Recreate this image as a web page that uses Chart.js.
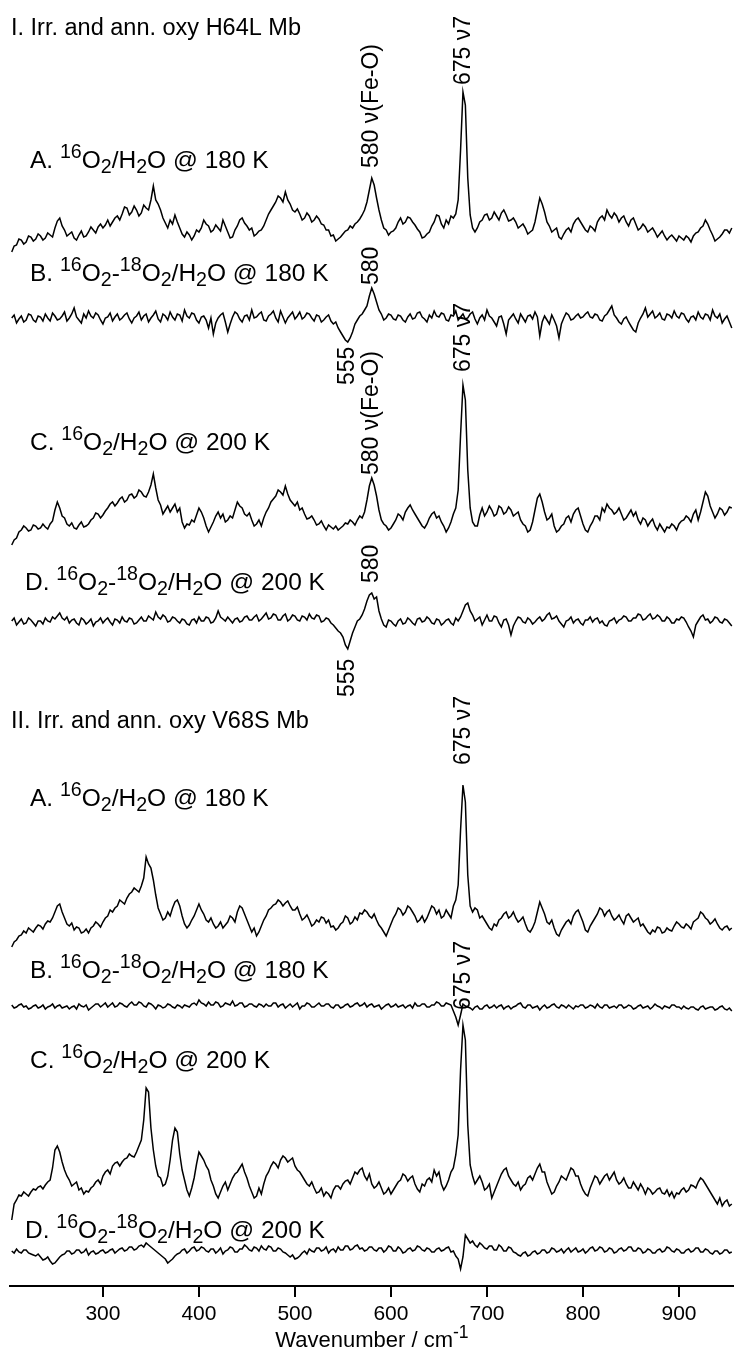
<!DOCTYPE html>
<html>
<head>
<meta charset="utf-8">
<script src="https://cdn.jsdelivr.net/npm/chart.js@4.4.1/dist/chart.umd.min.js"></script>
<style>
  html, body { margin: 0; padding: 0; background: #fff; }
  canvas { display: block; }
</style>
</head>
<body>
<canvas id="spectra" width="734" height="1354"></canvas>
<script>
// Raman shift grid (cm-1)
const wavenumbers = [
  205,207.5,210,212.5,215,217.5,220,222.5,225,227.5,230,232.5,235,237.5,240,242.5,245,247.5,250,252.5,
  255,257.5,260,262.5,265,267.5,270,272.5,275,277.5,280,282.5,285,287.5,290,292.5,295,297.5,300,302.5,
  305,307.5,310,312.5,315,317.5,320,322.5,325,327.5,330,332.5,335,337.5,340,342.5,345,347.5,350,352.5,
  355,357.5,360,362.5,365,367.5,370,372.5,375,377.5,380,382.5,385,387.5,390,392.5,395,397.5,400,402.5,
  405,407.5,410,412.5,415,417.5,420,422.5,425,427.5,430,432.5,435,437.5,440,442.5,445,447.5,450,452.5,
  455,457.5,460,462.5,465,467.5,470,472.5,475,477.5,480,482.5,485,487.5,490,492.5,495,497.5,500,502.5,
  505,507.5,510,512.5,515,517.5,520,522.5,525,527.5,530,532.5,535,537.5,540,542.5,545,547.5,550,552.5,
  555,557.5,560,562.5,565,567.5,570,572.5,575,577.5,580,582.5,585,587.5,590,592.5,595,597.5,600,602.5,
  605,607.5,610,612.5,615,617.5,620,622.5,625,627.5,630,632.5,635,637.5,640,642.5,645,647.5,650,652.5,
  655,657.5,660,662.5,665,667.5,670,672.5,675,677.5,680,682.5,685,687.5,690,692.5,695,697.5,700,702.5,
  705,707.5,710,712.5,715,717.5,720,722.5,725,727.5,730,732.5,735,737.5,740,742.5,745,747.5,750,752.5,
  755,757.5,760,762.5,765,767.5,770,772.5,775,777.5,780,782.5,785,787.5,790,792.5,795,797.5,800,802.5,
  805,807.5,810,812.5,815,817.5,820,822.5,825,827.5,830,832.5,835,837.5,840,842.5,845,847.5,850,852.5,
  855,857.5,860,862.5,865,867.5,870,872.5,875,877.5,880,882.5,885,887.5,890,892.5,895,897.5,900,902.5,
  905,907.5,910,912.5,915,917.5,920,922.5,925,927.5,930,932.5,935,937.5,940,942.5,945,947.5,950,952.5,
  955
];
const tickValues = [300, 400, 500, 600, 700, 800, 900];

// I. H64L Mb, 16O2/H2O @ 180 K
const h64l_16O2_180K = [
  -12,-6,-5,1,0,-4,-2,4,3,-1,1,6,4,0,2,7,5,3,12,19,
  22,14,10,4,6,8,2,0,5,9,3,4,8,13,10,7,13,16,12,15,
  20,14,18,22,24,20,26,33,32,25,28,34,30,24,27,35,32,30,40,54,
  40,36,30,22,17,12,20,16,25,18,12,6,3,8,5,0,4,10,8,12,
  20,16,14,8,10,15,12,9,20,14,8,2,3,10,14,20,22,17,14,10,
  12,4,6,9,10,14,20,26,30,34,38,44,42,38,48,40,36,30,28,31,
  26,20,22,27,24,18,20,24,21,16,15,10,10,4,5,-1,1,3,6,9,
  10,14,12,16,18,21,25,30,38,50,62,55,42,30,20,12,10,5,8,9,
  12,18,22,16,18,23,22,18,15,11,8,2,3,6,8,14,18,25,24,16,
  12,20,16,24,22,26,40,90,148,135,62,25,12,8,12,18,20,25,26,20,
  22,28,24,20,27,30,25,19,20,22,18,12,14,16,12,6,8,10,18,30,
  42,36,28,18,14,8,10,12,3,1,6,10,12,8,16,20,22,18,14,10,
  8,14,12,9,18,22,24,20,30,25,22,27,24,18,22,24,18,14,20,22,
  16,10,12,16,13,8,10,12,8,3,6,9,4,0,3,5,2,-1,4,2,
  0,4,2,-2,4,7,8,12,14,20,16,10,5,-1,1,3,6,10,10,7,
  12
];
// I. H64L Mb, 16O2 - 18O2 difference @ 180 K
const h64l_diff_180K = [
  2,5,-3,1,4,-2,0,6,5,0,-2,4,3,-1,6,2,-1,7,4,0,
  1,4,8,-1,2,6,12,3,0,-3,6,2,9,4,2,7,5,0,-4,2,
  3,7,-1,3,6,0,2,5,7,1,-3,2,4,8,0,4,6,-2,2,5,
  9,1,-2,6,4,0,8,3,0,6,5,-1,10,4,2,7,6,0,-3,3,
  4,0,-8,2,-14,-3,2,5,7,-2,-12,-4,3,8,6,1,-2,4,5,0,
  10,2,3,6,8,0,-1,4,6,9,2,-2,9,3,-3,2,5,8,1,4,
  8,1,3,7,6,2,-1,5,4,-2,0,3,5,-1,-4,-2,-8,-12,-16,-20,
  -22,-18,-12,-4,0,4,6,10,14,24,32,26,18,10,6,0,2,6,5,1,
  0,5,4,0,-2,3,6,1,2,7,8,3,1,-2,5,2,9,4,3,7,
  6,0,-1,5,4,9,0,3,6,1,2,6,8,1,-4,2,5,0,10,4,
  2,-2,-6,3,4,-4,-14,0,3,6,1,-3,6,2,-2,4,5,1,8,3,
  -16,-2,4,0,-4,5,0,-6,-18,-4,2,7,5,0,1,4,6,2,3,6,
  8,3,2,6,5,0,-1,4,6,10,14,5,2,-2,-4,1,3,-2,-6,-10,
  -12,-3,2,6,12,3,6,9,2,4,7,1,0,6,5,2,9,4,2,7,
  6,1,-2,3,4,0,8,3,1,6,5,0,10,4,2,6,-3,1,4,-2,
  -8
];
// I. H64L Mb, 16O2/H2O @ 200 K
const h64l_16O2_200K = [
  -15,-10,-8,-2,0,4,2,-1,0,5,4,1,2,6,3,1,6,9,20,28,
  22,14,12,6,4,7,2,1,5,8,3,4,6,10,12,17,16,12,15,19,
  22,26,28,24,27,31,33,28,30,35,36,32,34,40,38,34,33,38,45,56,
  42,30,25,16,20,24,18,22,26,18,22,8,2,6,5,10,8,15,22,18,
  12,4,-2,3,8,14,18,12,16,8,10,14,12,20,28,24,22,16,14,17,
  10,4,6,10,4,12,18,22,28,31,34,40,38,35,44,36,30,27,24,28,
  20,22,16,11,12,14,10,5,6,9,4,0,5,3,1,4,0,2,4,7,
  6,10,8,5,10,14,12,18,30,44,52,45,34,20,10,6,4,0,2,6,
  10,16,14,10,18,22,25,20,16,12,8,4,2,6,12,16,18,12,14,8,
  4,-2,2,8,16,22,40,95,145,130,60,22,8,4,4,15,22,14,18,24,
  20,14,16,24,22,16,18,23,20,14,16,18,10,6,4,-2,0,8,20,32,
  36,28,18,10,12,16,4,-2,0,4,6,12,14,8,16,20,22,14,6,0,
  -2,4,8,14,14,10,22,18,26,22,20,16,18,22,16,10,12,16,20,14,
  18,10,6,12,10,4,8,11,4,0,6,2,-2,3,2,6,4,0,6,9,
  10,14,12,8,16,20,10,18,28,38,34,24,18,12,16,22,20,15,18,23,
  22
];
// I. H64L Mb, 16O2 - 18O2 difference @ 200 K
const h64l_diff_200K = [
  2,5,-2,1,4,-1,0,5,3,0,-3,2,2,-1,5,2,1,6,4,7,
  10,5,3,6,0,3,4,0,-2,5,3,-1,1,4,-3,1,2,5,0,3,
  5,1,-2,4,3,0,6,2,1,5,4,-1,0,3,6,2,2,7,5,3,
  11,6,4,8,6,1,2,6,5,2,0,4,3,-1,-2,3,4,0,6,2,
  2,6,5,0,1,5,12,6,4,2,6,3,0,4,5,1,2,6,7,3,
  3,6,8,2,4,7,10,4,5,9,8,3,3,7,9,2,4,8,7,3,
  2,7,6,3,9,5,4,8,7,1,2,5,4,0,-2,-5,-8,-10,-14,-22,
  -26,-18,-10,-4,2,4,8,14,22,28,30,24,26,12,4,-2,-4,3,2,-1,
  -3,2,4,-1,0,5,3,0,-2,4,5,1,2,6,4,0,-1,4,3,-2,
  0,3,4,0,-2,5,2,6,12,18,20,12,8,2,4,6,-2,3,8,2,
  2,7,6,0,-4,3,4,-2,-12,-3,2,6,5,1,0,5,3,-1,1,4,
  6,2,4,8,10,4,5,7,2,-1,-4,2,3,6,0,3,4,0,-2,3,
  3,6,1,4,5,0,2,-2,-3,2,3,5,0,3,4,7,6,2,2,5,
  5,9,8,3,4,7,9,4,5,8,6,2,2,6,4,0,0,4,3,6,
  5,1,-4,-8,-14,-2,2,6,8,3,4,0,2,6,5,1,0,4,3,0,
  -3
];
// II. V68S Mb, 16O2/H2O @ 180 K
const v68s_16O2_180K = [
  -17,-12,-10,-6,-5,-1,-3,2,0,-2,2,5,4,1,6,9,8,12,18,24,
  26,18,12,6,4,7,0,3,2,-3,-2,1,-3,2,4,8,6,3,8,12,
  14,20,18,22,24,30,28,26,32,36,38,42,40,38,44,52,73,66,62,50,
  35,22,16,10,12,18,14,22,28,30,24,14,6,2,5,10,14,20,26,20,
  16,10,8,12,6,2,4,8,2,5,8,14,12,8,18,24,22,16,10,4,
  -2,2,-6,-2,4,10,14,20,22,25,26,30,28,24,27,29,24,20,20,23,
  16,10,12,15,10,4,6,10,8,13,12,7,10,3,4,0,2,6,8,14,
  12,6,8,13,10,17,16,20,18,14,12,16,10,5,2,-2,-6,0,6,12,
  16,22,20,15,18,24,22,18,14,8,10,14,8,12,18,24,22,16,20,12,
  14,20,16,12,24,30,45,100,145,128,55,24,18,22,20,12,14,10,6,2,
  0,6,4,10,12,16,18,12,14,18,12,8,10,13,6,0,-2,2,8,18,
  28,22,16,8,6,10,2,-4,-6,0,4,8,10,6,14,18,20,14,8,0,
  -2,4,8,12,16,22,20,14,18,20,14,10,12,15,10,6,14,16,12,8,
  10,12,4,6,2,-2,-4,0,-2,3,2,-3,-2,2,0,-1,4,8,6,3,
  2,6,4,1,8,10,12,18,16,12,10,6,8,11,6,2,0,3,4,0,
  2
];
// II. V68S Mb, 16O2 - 18O2 difference @ 180 K
const v68s_diff_180K = [
  2,-1,0,2,3,0,1,-2,-1,1,2,-1,0,2,-2,0,1,3,-1,1,
  2,-1,0,1,-2,0,1,-2,3,1,0,2,-3,-1,1,3,3,0,2,4,
  0,2,4,0,1,4,3,1,0,3,5,2,2,5,4,1,0,4,3,1,
  -2,2,1,-1,0,3,2,0,-1,2,1,-1,2,1,0,3,4,2,7,4,
  3,1,5,2,2,5,4,0,1,4,3,2,6,1,2,4,4,0,1,3,
  3,1,0,3,2,0,3,1,1,4,4,0,2,3,-1,1,3,0,2,4,
  -2,1,1,4,3,0,0,2,4,1,1,3,3,0,-1,2,2,-1,0,2,
  3,0,1,3,4,1,2,4,0,2,3,0,1,2,-2,0,2,3,0,1,
  3,0,1,2,-1,1,2,-1,4,1,1,3,3,0,0,2,2,5,4,1,
  1,4,3,2,-4,-10,-18,-8,3,1,0,-1,-3,0,1,-2,-2,1,2,-1,
  0,2,-1,1,2,-2,0,1,-2,0,1,3,4,0,-1,2,2,-1,0,1,
  -3,0,2,-1,0,2,3,0,-1,2,1,-1,2,0,-2,1,0,2,2,-1,
  0,2,1,-1,3,0,-1,2,2,-1,0,1,-1,2,2,-1,0,2,1,-2,
  -1,1,2,-1,0,1,-2,0,3,1,0,-2,1,0,-1,2,2,0,0,-2,
  1,-1,-2,0,0,-2,-3,0,1,-2,-1,0,0,-3,-2,0,1,-2,-3,-1,
  -4
];
// II. V68S Mb, 16O2/H2O @ 200 K
const v68s_16O2_200K = [
  -30,-14,-10,-5,-6,-2,-4,-6,-2,1,0,3,4,1,5,8,10,22,40,44,
  38,28,20,14,10,4,6,8,0,2,-4,-1,-2,2,4,8,10,6,14,18,
  20,16,24,27,28,24,28,31,32,36,34,33,38,44,50,70,102,98,62,40,
  24,14,12,4,6,14,30,50,62,58,36,20,10,0,-6,2,12,26,38,34,
  30,24,20,10,4,-4,-8,-2,4,8,0,6,12,16,18,22,26,18,12,4,
  -2,-8,-6,2,-4,6,14,18,24,28,26,22,30,34,32,28,30,32,24,20,
  18,14,10,6,4,8,2,-3,-2,2,-6,-2,-4,-8,0,4,4,1,6,9,
  10,6,12,18,16,20,22,14,10,16,6,2,4,8,2,-4,-2,2,-4,0,
  4,8,10,16,14,9,12,14,6,1,-2,6,4,10,12,8,20,14,18,6,
  0,4,10,18,22,35,55,120,165,150,65,25,14,6,10,14,8,0,2,6,
  -8,-2,4,10,16,20,22,14,10,6,4,8,0,4,6,12,14,10,16,22,
  26,18,18,8,2,-4,-2,4,8,14,12,10,16,22,20,14,14,6,0,-4,
  -6,2,8,14,12,6,10,14,16,10,14,18,10,6,8,12,6,2,2,8,
  4,0,6,2,-4,2,0,-4,-2,1,2,-3,-4,0,-6,-2,-8,-3,-4,0,
  2,-2,0,5,4,2,8,12,10,6,2,-2,-6,-10,-14,-8,-16,-12,-10,-16,
  -14
];
// II. V68S Mb, 16O2 - 18O2 difference @ 200 K
const v68s_diff_200K = [
  2,0,4,1,0,3,3,0,-1,-2,-3,-1,-4,-7,-6,-4,-8,-11,-10,-7,
  -4,-2,-1,2,2,-1,0,3,3,0,1,4,-2,1,2,-1,0,2,3,0,
  1,3,4,0,2,4,5,2,3,6,6,3,4,7,8,6,10,8,6,4,
  2,0,-2,-4,-6,-10,-8,-6,-3,-1,0,3,4,0,2,5,6,2,3,6,
  5,2,1,4,4,0,2,5,-1,2,3,6,5,1,1,4,4,8,6,3,
  2,6,5,2,7,4,3,7,6,2,2,5,4,1,0,-2,-4,-2,-6,-5,
  -3,0,2,-1,4,2,1,5,5,2,3,6,0,3,4,1,6,3,3,7,
  7,3,4,7,8,4,5,2,3,6,6,3,2,5,5,1,3,7,6,2,
  2,6,4,0,1,4,5,2,3,7,6,3,2,5,4,1,1,4,5,2,
  3,5,6,1,2,-3,-6,-16,-4,18,14,10,12,8,6,10,8,5,4,7,
  7,3,3,8,6,2,2,6,5,1,0,-2,-3,0,1,-3,-2,1,2,-1,
  0,3,3,0,1,5,4,1,2,4,0,3,5,1,3,5,1,2,4,0,
  2,5,6,2,3,6,5,1,2,5,4,0,1,4,5,2,3,6,6,2,
  2,5,4,0,1,4,3,0,0,3,4,1,2,6,5,2,1,4,3,0,
  0,3,4,1,2,5,5,1,1,4,3,0,-1,2,2,-1,0,3,3,0,
  1
];

// ---- layout of the stacked plot ----
const CANVAS_H = 1354;
const AXIS_PX = 1286;            // y pixel of the wavenumber axis line
const FONT = '"Liberation Sans", Arial, Helvetica, sans-serif';

// each spectrum is drawn around its own baseline (screen px)
const stack = [
  { values: h64l_16O2_180K, basePx: 240 },
  { values: h64l_diff_180K, basePx: 320 },
  { values: h64l_16O2_200K, basePx: 530 },
  { values: h64l_diff_200K, basePx: 623 },
  { values: v68s_16O2_180K, basePx: 930 },
  { values: v68s_diff_180K, basePx: 1007 },
  { values: v68s_16O2_200K, basePx: 1190 },
  { values: v68s_diff_200K, basePx: 1253 }
];

const datasets = stack.map(s => ({
  data: s.values.map((v, i) => ({ x: wavenumbers[i], y: (AXIS_PX - s.basePx) + v })),
  borderColor: '#000',
  borderWidth: 1.5,
  pointRadius: 0,
  tension: 0,
  fill: false,
  clip: false
}));

// rich text: parts are [text, 'n' | 'sup' | 'sub']
function drawRich(ctx, x, y, parts, size) {
  let cx = x;
  ctx.textAlign = 'left';
  ctx.textBaseline = 'alphabetic';
  for (const [txt, kind] of parts) {
    let fs = size, dy = 0;
    if (kind === 'sup') { fs = size * 0.8; dy = -size * 0.42; }
    if (kind === 'sub') { fs = size * 0.8; dy = size * 0.22; }
    ctx.font = fs + 'px ' + FONT;
    ctx.fillText(txt, cx, y + dy);
    cx += ctx.measureText(txt).width;
  }
  return cx;
}

function drawVertical(ctx, text, x, yBottom, size) {
  ctx.save();
  ctx.translate(x, yBottom);
  ctx.rotate(-Math.PI / 2);
  ctx.font = size + 'px ' + FONT;
  ctx.textAlign = 'left';
  ctx.textBaseline = 'middle';
  ctx.fillText(text, 0, 0);
  ctx.restore();
}

const L = 24.5;   // row label font size
const H = 23.5;   // section heading font size
const V = 23;     // band label font size
const label16 = (letter, temp) => [[letter + ' ', 'n'], ['16', 'sup'], ['O', 'n'], ['2', 'sub'], ['/H', 'n'], ['2', 'sub'], ['O @ ' + temp, 'n']];
const labelDiff = (letter, temp) => [[letter + ' ', 'n'], ['16', 'sup'], ['O', 'n'], ['2', 'sub'], ['-', 'n'],
  ['18', 'sup'], ['O', 'n'], ['2', 'sub'], ['/H', 'n'], ['2', 'sub'], ['O @ ' + temp, 'n']];

const rowLabels = [
  { parts: [['I. Irr. and ann. oxy H64L Mb', 'n']], x: 11, y: 35, size: H },
  { parts: label16('A.', '180 K'), x: 30, y: 168, size: L },
  { parts: labelDiff('B.', '180 K'), x: 30, y: 281, size: L },
  { parts: label16('C.', '200 K'), x: 30, y: 450, size: L },
  { parts: labelDiff('D.', '200 K'), x: 25, y: 590, size: L },
  { parts: [['II. Irr. and ann. oxy V68S Mb', 'n']], x: 11, y: 728, size: H },
  { parts: label16('A.', '180 K'), x: 30, y: 806, size: L },
  { parts: labelDiff('B.', '180 K'), x: 30, y: 978, size: L },
  { parts: label16('C.', '200 K'), x: 30, y: 1068, size: L },
  { parts: labelDiff('D.', '200 K'), x: 25, y: 1238, size: L }
];

// band assignments, written upward from yBottom
const bandLabels = [
  { text: '580 \u03BD(Fe-O)', at: 580, yBottom: 168 },
  { text: '675 \u03BD7', at: 676, yBottom: 85 },
  { text: '580', at: 580, yBottom: 285 },
  { text: '555', at: 555, yBottom: 385 },
  { text: '675 \u03BD7', at: 676, yBottom: 372 },
  { text: '580 \u03BD(Fe-O)', at: 580, yBottom: 475 },
  { text: '580', at: 580, yBottom: 583 },
  { text: '555', at: 555, yBottom: 697 },
  { text: '675 \u03BD7', at: 676, yBottom: 765 },
  { text: '675 \u03BD7', at: 676, yBottom: 1010 }
];

const annotate = {
  id: 'annotate',
  afterDraw(chart) {
    const ctx = chart.ctx;
    const xs = chart.scales.x;
    ctx.save();
    ctx.fillStyle = '#000';
    rowLabels.forEach(r => drawRich(ctx, r.x, r.y, r.parts, r.size));
    bandLabels.forEach(b => drawVertical(ctx, b.text, xs.getPixelForValue(b.at), b.yBottom, V));
    // axis title with superscript
    const T = 22;
    ctx.font = T + 'px ' + FONT;
    const main = 'Wavenumber / cm';
    const w1 = ctx.measureText(main).width;
    ctx.font = (T * 0.8) + 'px ' + FONT;
    const w2 = ctx.measureText('-1').width;
    const cx = (chart.chartArea.left + chart.chartArea.right) / 2;
    drawRich(ctx, cx - (w1 + w2) / 2, 1347, [[main, 'n'], ['-1', 'sup']], T);
    ctx.restore();
  }
};

new Chart(document.getElementById('spectra'), {
  type: 'line',
  data: { datasets },
  options: {
    responsive: false,
    animation: false,
    devicePixelRatio: 1,
    events: [],
    layout: { padding: { left: 10, right: 0, top: 0, bottom: 0 } },
    plugins: { legend: { display: false }, tooltip: { enabled: false }, title: { display: false } },
    scales: {
      x: {
        type: 'linear',
        position: 'bottom',
        min: 203.2,
        max: 957.3,
        afterFit(scale) { scale.height = CANVAS_H - AXIS_PX; },
        afterBuildTicks(scale) { scale.ticks = tickValues.map(v => ({ value: v })); },
        border: { display: true, color: '#000', width: 2 },
        grid: { drawOnChartArea: false, drawTicks: true, tickLength: 11, color: '#000', lineWidth: 2 },
        ticks: {
          color: '#000',
          font: { family: FONT, size: 21 },
          padding: 5,
          maxRotation: 0,
          autoSkip: false,
          callback: v => String(v)
        }
      },
      y: {
        type: 'linear',
        display: false,
        min: 0,
        max: AXIS_PX
      }
    }
  },
  plugins: [annotate]
});
</script>
</body>
</html>
